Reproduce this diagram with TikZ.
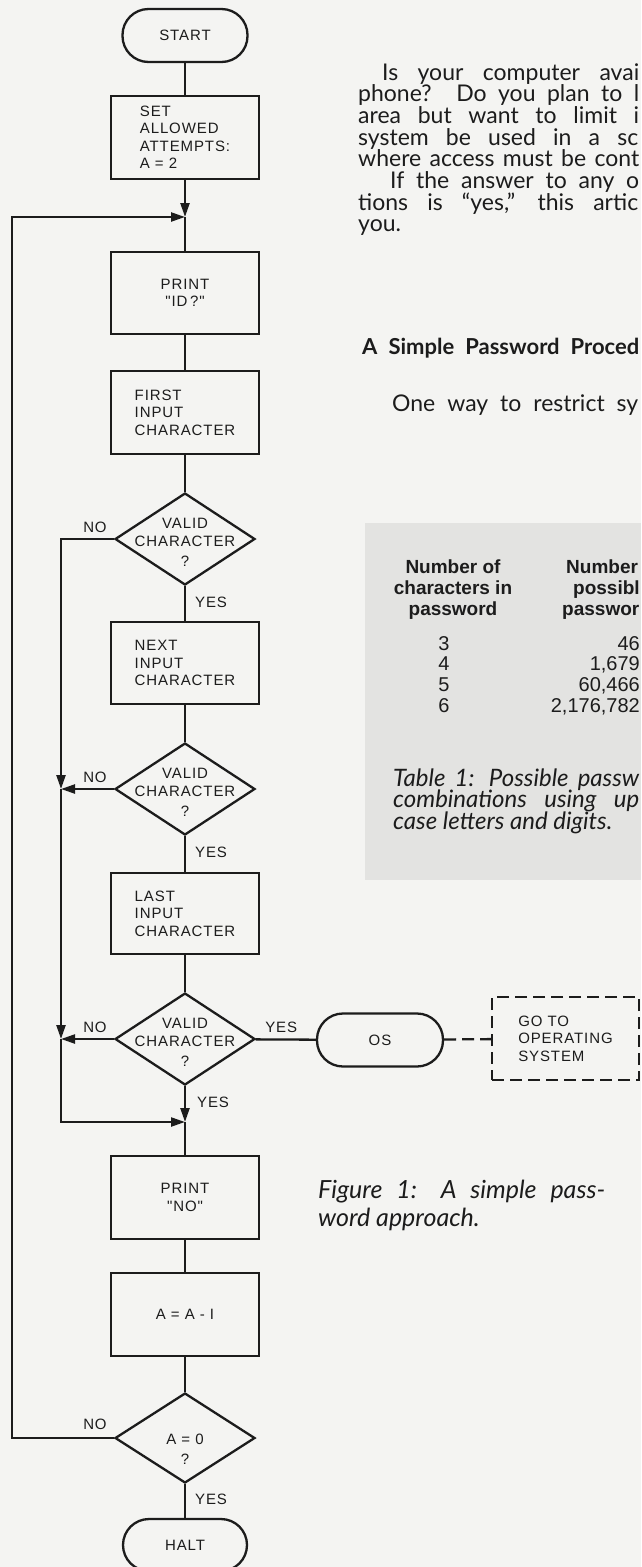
\documentclass[tikz,border=0pt]{standalone}
\usepackage{fontspec}
\setmainfont{Liberation Sans}
\newfontfamily\flowfont[LetterSpace=6]{Liberation Sans}
\newfontfamily\bodyfont{Lato}
\newfontfamily\tabfont{Liberation Sans}
\usetikzlibrary{shapes.geometric,arrows.meta}
\definecolor{pagebg}{HTML}{F4F4F2}
\definecolor{tablebg}{HTML}{E3E3E1}
\definecolor{ink}{HTML}{1C1C1C}
\tikzset{
  flow/.style={font=\flowfont\fontsize{15}{17.5}\selectfont, text=ink},
  box/.style={flow, draw=ink, line width=2.3pt, rectangle, minimum width=148pt, minimum height=83pt, inner sep=0pt, align=left},
  term/.style={flow, draw=ink, line width=2.3pt, rectangle, rounded corners=26pt, minimum width=125pt, minimum height=53pt, inner sep=0pt},
  decision/.style={draw=ink, line width=2.3pt, diamond, minimum width=140pt, minimum height=92pt, inner sep=0pt},
  dtext/.style={flow, inner sep=0pt, align=center},
  lbl/.style={flow, inner sep=0pt},
  conn/.style={draw=ink, line width=2.3pt},
  arr/.style={conn, -{Triangle[length=14pt,width=9pt]}},
  dashconn/.style={draw=ink, line width=2.3pt, dash pattern=on 12pt off 6pt},
  body/.style={font=\bodyfont\fontsize{23}{22}\selectfont, text=ink, inner sep=0pt, anchor=base west},
  bodyhead/.style={font=\bodyfont\bfseries\fontsize{22}{22}\selectfont, text=ink, inner sep=0pt, anchor=base west},
  ital/.style={font=\bodyfont\itshape\fontsize{24}{23}\selectfont, text=ink, inner sep=0pt, anchor=base west},
  thead/.style={font=\tabfont\bfseries\fontsize{19}{21}\selectfont, text=ink, inner sep=0pt},
  tnum/.style={font=\tabfont\fontsize{20}{21}\selectfont, text=ink, inner sep=0pt},
}
\begin{document}
\begin{tikzpicture}[x=1pt,y=-1pt]
\useasboundingbox (0,0) rectangle (641,1567);
\fill[pagebg] (0,0) rectangle (641,1567);
\clip (0,0) rectangle (641,1567);

% ---------- flowchart nodes ----------
\node[term] (start) at (185,35.5) {START};
\node[box] (set) at (185,137.5) {SET\\ALLOWED\\ATTEMPTS:\\A = 2};
\coordinate (j1) at (185,217);
\node[box, align=center, minimum height=82pt] (pid) at (185,293) {PRINT\\"ID\,?"};
\node[box] (first) at (185,412.5) {FIRST\\INPUT\\CHARACTER};
\node[decision] (d1) at (185,539) {};
\node[dtext] (d1t) at (185,542.5) {VALID\\CHARACTER\\[3pt]?};
\node[box, minimum height=82pt] (next) at (185,663) {NEXT\\INPUT\\CHARACTER};
\node[decision] (d2) at (185,789) {};
\node[dtext] (d2t) at (185,792.5) {VALID\\CHARACTER\\[3pt]?};
\node[box, minimum height=81pt] (last) at (185,913.5) {LAST\\INPUT\\CHARACTER};
\node[decision] (d3) at (185,1039) {};
\node[dtext] (d3t) at (185,1042.5) {VALID\\CHARACTER\\[3pt]?};
\coordinate (j2) at (185,1122);
\node[box, align=center] (pno) at (185,1197.5) {PRINT\\"NO"};
\node[box] (dec) at (185,1314.5) {A = A - I};
\node[decision, minimum height=90pt] (d4) at (185,1438) {};
\node[dtext] (d4t) at (185,1449) {A = 0\\[2pt]?};
\node[term, minimum width=124pt, minimum height=52pt] (halt) at (185,1545) {HALT};
\node[term, minimum width=126pt] (os) at (380,1040) {OS};
\node[flow, draw=ink, line width=2.3pt, dash pattern=on 12pt off 6pt, rectangle, minimum width=147pt, minimum height=83pt, inner sep=0pt, align=left] (goos) at (565.5,1038.5) {GO TO\\OPERATING\\SYSTEM};

\coordinate (c1) at (61,539);
\coordinate (j3) at (61,789);
\coordinate (j4) at (61,1039);
\coordinate (c2) at (61,1122);
\coordinate (c3) at (12,1438);
\coordinate (c4) at (12,217);

% ---------- connectors ----------
\draw[conn] (start) -- (set);
\draw[arr] (set) -- (j1);
\draw[conn] (j1) -- (pid);
\draw[conn] (pid) -- (first);
\draw[conn] (first) -- (d1);
\draw[conn] (d1) -- (next);
\draw[conn] (next) -- (d2);
\draw[conn] (d2) -- (last);
\draw[conn] (last) -- (d3);
\draw[arr] (d3) -- (j2);
\draw[conn] (j2) -- (pno);
\draw[conn] (pno) -- (dec);
\draw[conn] (dec) -- (d4);
\draw[conn] (d4) -- (halt);
\draw[conn] (d3) -- (os);
\draw[dashconn] (os) -- (goos);

\draw[arr] (d1.west) -- (c1) -- (j3);
\draw[arr] (d2.west) -- (j3);
\draw[arr] (j3) -- (j4);
\draw[arr] (d3.west) -- (j4);
\draw[arr] (j4) -- (c2) -- (j2);
\draw[arr] (d4.west) -- (c3) -- (c4) -- (j1);

% ---------- branch labels ----------
\node[lbl, anchor=base east] (n1) at ([shift={(-7,-7)}]d1.west) {NO};
\node[lbl, anchor=base west] (y1) at ([shift={(10,21)}]d1.south) {YES};
\node[lbl, anchor=base east] (n2) at ([shift={(-7,-7)}]d2.west) {NO};
\node[lbl, anchor=base west] (y2) at ([shift={(10,21)}]d2.south) {YES};
\node[lbl, anchor=base east] (n3) at ([shift={(-7,-7)}]d3.west) {NO};
\node[lbl, anchor=base west] (y3) at ([shift={(12,21)}]d3.south) {YES};
\node[lbl, anchor=base west] (y3r) at ([shift={(9,-7)}]d3.east) {YES};
\node[lbl, anchor=base east] (n4) at ([shift={(-7,-9)}]d4.west) {NO};
\node[lbl, anchor=base west] (y4) at ([shift={(10,20)}]d4.south) {YES};

% ---------- article text ----------
\node[body] (t1) at (382,80) {\makebox[257pt][s]{Is your computer avai}};
\node[body] (t2) at (358,101.7) {\makebox[281pt][s]{phone? Do you plan to l}};
\node[body] (t3) at (358,123.4) {\makebox[281pt][s]{area but want to limit i}};
\node[body] (t4) at (358,145.1) {\makebox[280pt][s]{system be used in a sc}};
\node[body] (t5) at (358,166.8) {\makebox[281pt][s]{where access must be cont}};
\node[body] (t6) at (390,188.5) {\makebox[249pt][s]{If the answer to any o}};
\node[body] (t7) at (358,210.2) {\makebox[280pt][s]{tions is “yes,” this artic}};
\node[body] (t8) at (358,231.9) {you.};
\node[bodyhead] (h1) at (362,354) {\makebox[277pt][s]{A Simple Password Proced}};
\node[body] (t9) at (392,411) {\makebox[246pt][s]{One way to restrict sy}};

% ---------- table ----------
\fill[tablebg] (365,523) rectangle (641,880);
\node[thead, anchor=base] (th1) at (453,573) {Number of};
\node[thead, anchor=base] (th2) at (453,594) {characters in};
\node[thead, anchor=base] (th3) at (453,615) {password};
\node[thead, anchor=base west] (th4) at (566,573) {Number};
\node[thead, anchor=base west] (th5) at (573,594) {possibl};
\node[thead, anchor=base west] (th6) at (562,615) {passwor};
\node[tnum, anchor=base] (r1) at (444,650) {3};
\node[tnum, anchor=base] (r2) at (444,670.5) {4};
\node[tnum, anchor=base] (r3) at (444,691) {5};
\node[tnum, anchor=base] (r4) at (444,712) {6};
\node[tnum, anchor=base east] (v1) at (640,650) {46};
\node[tnum, anchor=base east] (v2) at (640,670.5) {1,679};
\node[tnum, anchor=base east] (v3) at (640,691) {60,466};
\node[tnum, anchor=base east] (v4) at (640,712) {2,176,782};
\node[ital] (tc1) at (393,786) {\makebox[246pt][s]{Table 1: Possible passw}};
\node[ital] (tc2) at (393,807.5) {\makebox[246pt][s]{combinations using up}};
\node[ital] (tc3) at (393,829) {case letters and digits.};

% ---------- figure caption ----------
\node[ital, font=\bodyfont\itshape\fontsize{25}{24}\selectfont] (fc1) at (318,1198) {\makebox[287pt][s]{Figure 1: A simple pass-}};
\node[ital, font=\bodyfont\itshape\fontsize{25}{24}\selectfont] (fc2) at (318,1226) {word approach.};
\end{tikzpicture}
\end{document}
